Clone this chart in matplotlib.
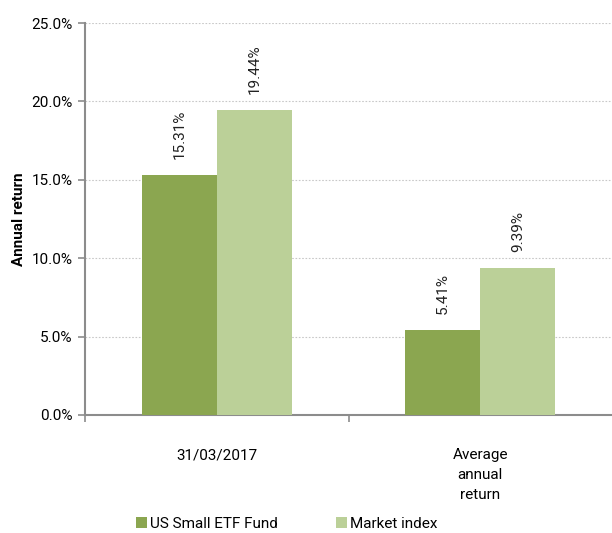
import numpy as np
import matplotlib.pyplot as plt
from matplotlib.ticker import FuncFormatter, FixedLocator

plt.rcParams['font.family'] = ['Roboto', 'DejaVu Sans']

categories = ['31/03/2017', 'Average\nannual\nreturn']
fund = [15.31, 5.41]
index = [19.44, 9.39]
series_names = ['US Small ETF Fund', 'Market index']

c_fund = '#8ba650'
c_index = '#bbd098'
axis_col = '#8c8c8c'

fig = plt.figure(figsize=(6.12, 5.33), dpi=100)
ax = fig.add_axes([0.139, 0.2214, 0.861, 0.7354])

x = np.arange(len(categories)) + 0.5
w = 0.285
b1 = ax.bar(x - w / 2, fund, w, color=c_fund, label=series_names[0], zorder=3)
b2 = ax.bar(x + w / 2, index, w, color=c_index, label=series_names[1], zorder=3)

for bars in (b1, b2):
    for r in bars:
        ax.annotate(f'{r.get_height():.2f}%',
                    (r.get_x() + r.get_width() / 2, r.get_height()),
                    xytext=(0, 16), textcoords='offset pixels',
                    rotation=90, ha='center', va='bottom', fontsize=11, color='#222222')

ax.set_xlim(0, 2)
ax.set_ylim(0, 25)
ax.set_yticks(np.arange(0, 25.1, 5))
ax.yaxis.set_major_formatter(FuncFormatter(lambda v, p: f'{v:.1f}%'))
ax.yaxis.grid(True, linestyle=(0, (1.5, 1.5)), color='#c8c8c8', linewidth=0.8, zorder=0)

ax.set_xticks(x)
ax.set_xticklabels(categories, fontsize=11, linespacing=1.55)
ax.xaxis.set_minor_locator(FixedLocator([0, 1]))
ax.tick_params(axis='x', which='major', length=0, pad=24)
ax.tick_params(axis='x', which='minor', length=5, color=axis_col, width=1.2)
ax.tick_params(axis='y', length=5, color=axis_col, width=1.2, labelsize=11, pad=4)
for lab in ax.get_xticklabels():
    lab.set_va('top')

for s in ['top', 'right']:
    ax.spines[s].set_visible(False)
for s in ['left', 'bottom']:
    ax.spines[s].set_color(axis_col)
    ax.spines[s].set_linewidth(1.5)

ax.set_ylabel('Annual return', fontsize=11, fontweight='bold', labelpad=4)

fig.legend(handles=[b1, b2], labels=series_names, loc='lower left',
           bbox_to_anchor=(0.2, -0.022), ncol=2, frameon=False, fontsize=11,
           handlelength=0.7, handleheight=0.7, handletextpad=0.2, columnspacing=3.8)

fig.savefig('out.png', dpi=100)
